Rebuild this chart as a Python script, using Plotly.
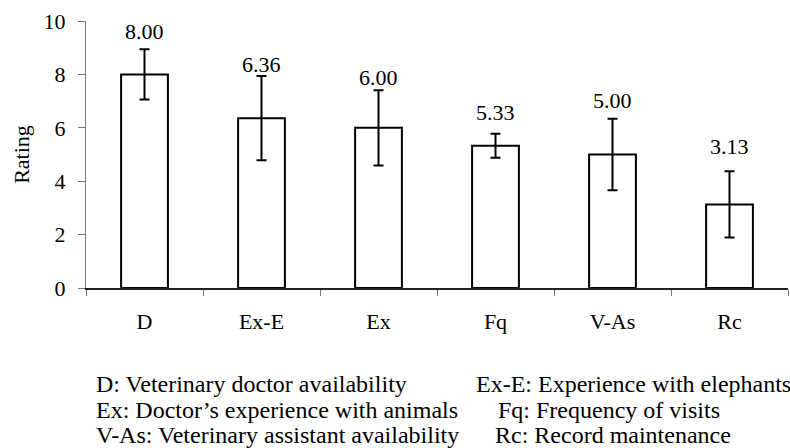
import plotly.graph_objects as go

categories = ["D", "Ex-E", "Ex", "Fq", "V-As", "Rc"]
ratings = [8.00, 6.36, 6.00, 5.33, 5.00, 3.13]
errors = [0.94, 1.58, 1.41, 0.45, 1.34, 1.24]
value_labels = ["8.00", "6.36", "6.00", "5.33", "5.00", "3.13"]
y_ticks = [0, 2, 4, 6, 8, 10]
legend_left = ["D: Veterinary doctor availability",
               "Ex: Doctor\u2019s experience with animals",
               "V-As: Veterinary assistant availability"]
legend_right = ["Ex-E: Experience with elephants",
                "Fq: Frequency of visits",
                "Rc: Record maintenance"]

# style: pixel nudges for value labels above error bars
label_nudge_px = [3, -3, -2, 7, 4, 10]

FONT = "Liberation Serif"
W, H = 790, 448
ML, MR, MT, MB = 86, 2, 21, 160
PW = W - ML - MR
PH = H - MT - MB

fig = go.Figure()
fig.add_trace(go.Bar(
    x=categories, y=ratings, width=0.4,
    marker=dict(color="white", line=dict(color="black", width=2)),
    error_y=dict(type="data", array=errors, visible=True,
                 color="black", thickness=2, width=5),
    showlegend=False, hoverinfo="skip",
))

annotations = []
for c, v, e, t, n in zip(categories, ratings, errors, value_labels, label_nudge_px):
    annotations.append(dict(x=c, y=v + e, text=t, showarrow=False,
                            xanchor="center", yanchor="bottom", yshift=n,
                            font=dict(family=FONT, size=22, color="black")))

def px_x(p):
    return (p - ML) / PW

def px_y(p):
    return (H - MB - p) / PH

row_mid = [384, 410, 435]
left_x = [94, 94, 94]
right_x = [474, 496, 493]
for i in range(3):
    annotations.append(dict(xref="paper", yref="paper", x=px_x(left_x[i]), y=px_y(row_mid[i]),
                            text=legend_left[i], showarrow=False, xanchor="left", yanchor="middle",
                            font=dict(family=FONT, size=24, color="black")))
    annotations.append(dict(xref="paper", yref="paper", x=px_x(right_x[i]), y=px_y(row_mid[i]),
                            text=legend_right[i], showarrow=False, xanchor="left", yanchor="middle",
                            font=dict(family=FONT, size=24, color="black")))

fig.update_layout(
    width=W, height=H,
    margin=dict(l=ML, r=MR, t=MT, b=MB, pad=0),
    paper_bgcolor="white", plot_bgcolor="white",
    font=dict(family=FONT, size=22, color="black"),
    annotations=annotations,
    bargap=0.6,
)
fig.update_xaxes(
    type="category", tickson="boundaries", ticks="outside", ticklen=6,
    tickcolor="#777", tickwidth=1, showline=True, linecolor="#222", linewidth=1.5,
    showgrid=False, zeroline=False, tickfont=dict(family=FONT, size=22),
    ticklabelstandoff=13,
)
fig.update_yaxes(
    range=[0, 10], tickvals=y_ticks, ticks="outside", ticklen=7,
    tickcolor="#777", tickwidth=1, showline=True, linecolor="#777", linewidth=1,
    showgrid=False, zeroline=False, tickfont=dict(family=FONT, size=22),
    ticklabelstandoff=8,
    title=dict(text="Rating", font=dict(family=FONT, size=22), standoff=7),
)

fig.write_html("out.html", config={"displayModeBar": False},
               post_script="document.body.style.margin='0';document.body.style.overflow='hidden';")
